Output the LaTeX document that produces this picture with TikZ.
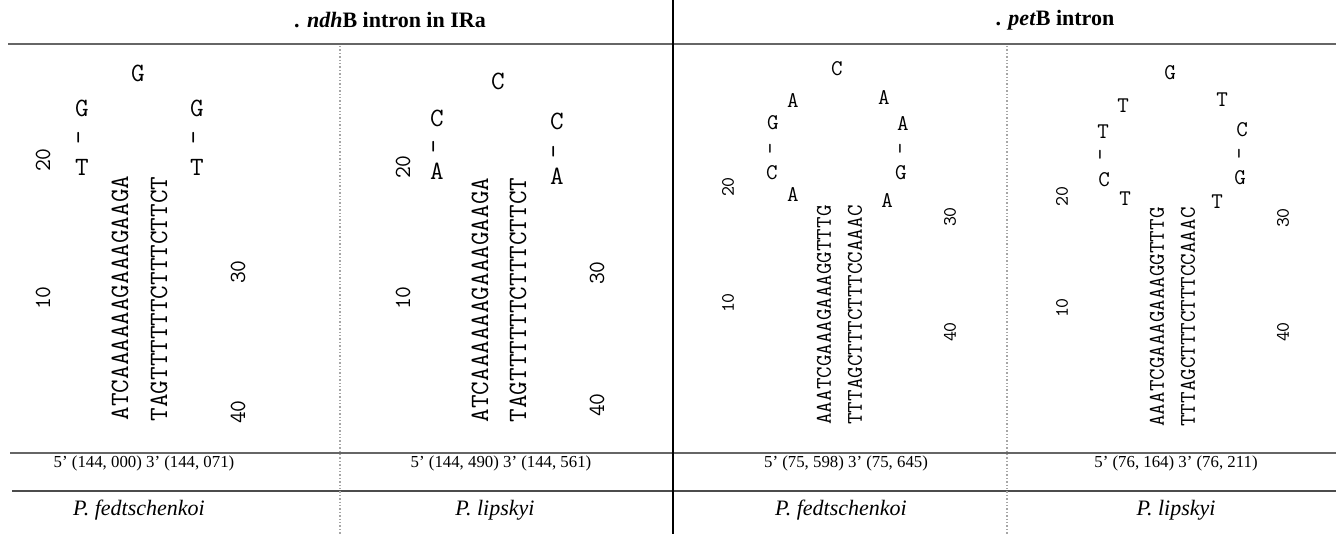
\documentclass[tikz,border=0pt]{standalone}
\usepackage{fontspec}
\setmainfont{Liberation Serif}
\begin{document}
\begin{tikzpicture}[x=0.5pt,y=-0.5pt,
  big/.style={font=\ttfamily\fontsize{13.2}{14}\selectfont, inner sep=0pt},
  small/.style={font=\ttfamily\fontsize{11.2}{12}\selectfont, inner sep=0pt},
  bignum/.style={font=\ttfamily\fontsize{11.5}{12}\selectfont, rotate=90, inner sep=0pt},
  smallnum/.style={font=\ttfamily\fontsize{9.5}{10}\selectfont, rotate=90, inner sep=0pt},
  seqA/.style={big, rotate=90},
  seqB/.style={small, rotate=90},
  barA/.style={big, rotate=90},
  barB/.style={small, rotate=90},
  ttl/.style={font=\bfseries\fontsize{11}{13}\selectfont, inner sep=0pt},
  locus/.style={font=\fontsize{8.4}{10}\selectfont, inner sep=0pt},
  species/.style={font=\itshape\fontsize{11}{13}\selectfont, inner sep=0pt},
  dotline/.style={densely dotted, black!35, line width=0.7pt},
  rule/.style={black!60, line width=1.3pt},
  thinrule/.style={black!70, line width=0.7pt}]
\useasboundingbox (0,0) rectangle (1336,534);

% frame lines
\coordinate (hl0) at (8,44);   \coordinate (hr0) at (1336,44);
\coordinate (hl1) at (10,453); \coordinate (hr1) at (1336,453);
\coordinate (hl2) at (12,491); \coordinate (hr2) at (1336,491);
\coordinate (vt) at (673,0);   \coordinate (vb) at (673,534);
\coordinate (d1t) at (340,46); \coordinate (d1b) at (340,534);
\coordinate (d2t) at (1007,46);\coordinate (d2b) at (1007,534);
\draw[rule] (hl0) -- (hr0);
\draw[rule] (hl1) -- (hr1);
\draw[thinrule] (hl2) -- (hr2);
\draw[black, line width=0.8pt] (vt) -- (vb);
\draw[dotline] (d1t) -- (d1b);
\draw[dotline] (d2t) -- (d2b);

% titles
\node[ttl] (t1) at (390,20) {. \textit{ndh}B intron in IRa};
\node[ttl] (t2) at (1055,20) {. \textit{pet}B intron};

% panel 1
\node[big] (a1) at (138,73) {G};
\node[big] (a2) at (82,108) {G};
\node[barA] (a3) at (82,138) {-};
\node[big] (a4) at (82,167) {T};
\node[big] (a5) at (197,108) {G};
\node[barA] (a6) at (197,138) {-};
\node[big] (a7) at (197,167) {T};
\node[bignum] (a8) at (43,160) {20};
\node[bignum] (a9) at (43,298) {10};
\node[bignum] (a10) at (238,272) {30};
\node[bignum] (a11) at (238,412) {40};
\node[seqA] (a12) at (120,298) {ATCAAAAAAGAAAGAAGA};
\node[seqA] (a13) at (159,299) {TAGTTTTTTCTTTCTTCT};

% panel 2
\node[big] (b1) at (498,81) {C};
\node[big] (b2) at (437,118) {C};
\node[barA] (b3) at (437,147) {-};
\node[big] (b4) at (437,171) {A};
\node[big] (b5) at (557,121) {C};
\node[barA] (b6) at (557,152) {-};
\node[big] (b7) at (557,176) {A};
\node[bignum] (b8) at (403,167) {20};
\node[bignum] (b9) at (403,298) {10};
\node[bignum] (b10) at (597,273) {30};
\node[bignum] (b11) at (597,405) {40};
\node[seqA] (b12) at (480,300) {ATCAAAAAAGAAAGAAGA};
\node[seqA] (b13) at (518,300) {TAGTTTTTTCTTTCTTCT};

% panel 3
\node[small] (c1) at (837,69) {C};
\node[small] (c2) at (793,101) {A};
\node[small] (c3) at (773,123) {G};
\node[barB] (c4) at (773,149) {-};
\node[small] (c5) at (772,173) {C};
\node[small] (c6) at (793,194) {A};
\node[small] (c7) at (884,98) {A};
\node[small] (c8) at (903,124) {A};
\node[barB] (c9) at (903,149) {-};
\node[small] (c10) at (901,173) {G};
\node[small] (c11) at (887,200) {A};
\node[smallnum] (c12) at (728,187) {20};
\node[smallnum] (c13) at (728,303) {10};
\node[smallnum] (c14) at (950,217) {30};
\node[smallnum] (c15) at (950,332) {40};
\node[seqB] (c16) at (824,315) {AAATCGAAAGAAAGGTTTG};
\node[seqB] (c17) at (855,315) {TTTAGCTTTCTTTCCAAAC};

% panel 4
\node[small] (e1) at (1170,73) {G};
\node[small] (e2) at (1123,106) {T};
\node[small] (e3) at (1103,132) {T};
\node[barB] (e4) at (1103,155) {-};
\node[small] (e5) at (1104,180) {C};
\node[small] (e6) at (1125,199) {T};
\node[small] (e7) at (1222,100) {T};
\node[small] (e8) at (1242,130) {C};
\node[barB] (e9) at (1242,154) {-};
\node[small] (e10) at (1240,178) {G};
\node[small] (e11) at (1217,202) {T};
\node[smallnum] (e12) at (1062,197) {20};
\node[smallnum] (e13) at (1062,308) {10};
\node[smallnum] (e14) at (1283,218) {30};
\node[smallnum] (e15) at (1283,332) {40};
\node[seqB] (e16) at (1157,317) {AAATCGAAAGAAAGGTTTG};
\node[seqB] (e17) at (1188,317) {TTTAGCTTTCTTTCCAAAC};

% positions
\node[locus] (p1) at (144,463) {5' (144, 000) 3' (144, 071)};
\node[locus] (p2) at (501,463) {5' (144, 490) 3' (144, 561)};
\node[locus] (p3) at (846,463) {5' (75, 598) 3' (75, 645)};
\node[locus] (p4) at (1176,463) {5' (76, 164) 3' (76, 211)};

% species
\node[species] (s1) at (139,510) {P. fedtschenkoi};
\node[species] (s2) at (495,510) {P. lipskyi};
\node[species] (s3) at (841,510) {P. fedtschenkoi};
\node[species] (s4) at (1176,510) {P. lipskyi};
\end{tikzpicture}
\end{document}
